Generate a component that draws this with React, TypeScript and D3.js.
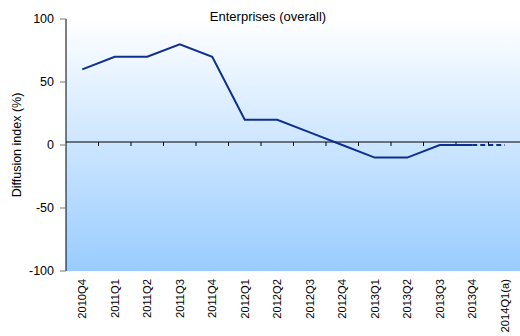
import React from "react";
import * as d3 from "d3";

const categories = ["2010Q4","2011Q1","2011Q2","2011Q3","2011Q4","2012Q1","2012Q2","2012Q3","2012Q4","2013Q1","2013Q2","2013Q3","2013Q4","2014Q1(a)"];
const actual = [60, 70, 70, 80, 70, 20, 20, 10, 0, -10, -10, 0, 0];
const forecast = [0, 0]; // 2013Q4 -> 2014Q1(a)
const yTicks = [100, 50, 0, -50, -100];
const title = "Enterprises (overall)";
const yLabel = "Diffusion index (%)";

const W = 520, H = 336;
const M = { left: 66, right: 521, top: 19, bottom: 271 };
const FONT = "'Liberation Sans', Arial, sans-serif";

export default function App() {
  const x = d3.scaleBand<string>().domain(categories).range([M.left, M.right]).padding(0);
  const y = d3.scaleLinear().domain([-100, 100]).range([M.bottom, M.top]);
  const cx = (c: string) => (x(c) as number) + x.bandwidth() / 2;
  const line = d3.line<[string, number]>().x(d => cx(d[0])).y(d => y(d[1]));
  const solidPts: [string, number][] = actual.map((v, i) => [categories[i], v]);
  const fcStart = actual.length - 1;
  const dashPts: [string, number][] = forecast.map((v, i) => [categories[fcStart + i], v]);
  const axisY = y(0) - 3;

  return (
    <svg width={W} height={H} style={{ position: "absolute", left: 0, top: 0 }} fontFamily={FONT}>
      <defs>
        <linearGradient id="bg" x1="0" y1="0" x2="0" y2="1">
          <stop offset="0" stopColor="#ffffff" />
          <stop offset="1" stopColor="#99ccff" />
        </linearGradient>
      </defs>
      <rect x={0} y={0} width={W} height={H} fill="#fff" />
      <rect x={M.left} y={M.top} width={M.right - M.left} height={M.bottom - M.top} fill="url(#bg)" />
      {/* y axis */}
      <line x1={M.left} x2={M.left} y1={M.top} y2={M.bottom} stroke="#000" strokeWidth={1} />
      {yTicks.map(t => (
        <g key={t}>
          <line x1={M.left - 6} x2={M.left} y1={y(t)} y2={y(t)} stroke="#777" strokeWidth={1} />
          <text x={M.left - 12} y={y(t)} dy="0.35em" textAnchor="end" fontSize={12.5} fill="#000">{t}</text>
        </g>
      ))}
      {/* x axis line */}
      <line x1={M.left} x2={M.right} y1={axisY} y2={axisY} stroke="#000" strokeWidth={1} />
      {categories.slice(1).map(c => (
        <line key={c} x1={x(c) as number} x2={x(c) as number} y1={axisY} y2={axisY + 4} stroke="#000" strokeWidth={1} />
      ))}
      {categories.map(c => (
        <text key={c} transform={`translate(${cx(c) + 4},${M.bottom + 8}) rotate(-90)`} textAnchor="end" fontSize={11.2} fill="#000">{c}</text>
      ))}
      {/* series */}
      <path d={line(solidPts) || ""} fill="none" stroke="#0f2f8f" strokeWidth={2} />
      <path d={line(dashPts) || ""} fill="none" stroke="#0f2f8f" strokeWidth={2} strokeDasharray="5,3" />
      <text x={268} y={21} textAnchor="middle" fontSize={13} fill="#000">{title}</text>
      <text transform={`translate(21,${(M.top + M.bottom) / 2}) rotate(-90)`} textAnchor="middle" fontSize={12.5} fill="#000">{yLabel}</text>
    </svg>
  );
}
